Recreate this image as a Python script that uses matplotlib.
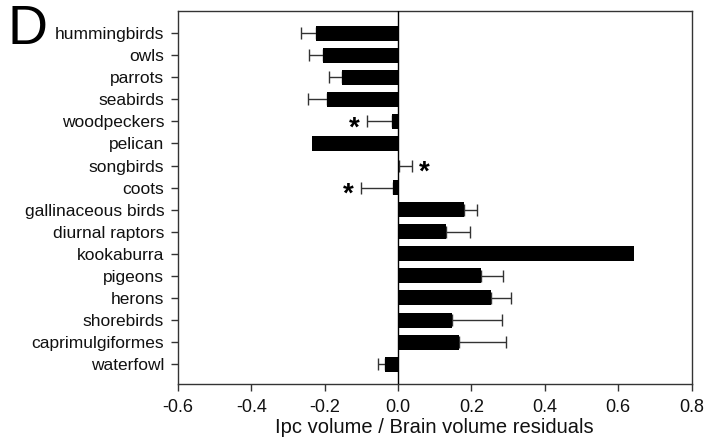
import numpy as np
import matplotlib
matplotlib.use("Agg")
import matplotlib.pyplot as plt
from matplotlib import rcParams

rcParams['font.family'] = ['Liberation Sans', 'DejaVu Sans']

# categories top to bottom
groups = ["hummingbirds", "owls", "parrots", "seabirds", "woodpeckers", "pelican",
          "songbirds", "coots", "gallinaceous birds", "diurnal raptors", "kookaburra",
          "pigeons", "herons", "shorebirds", "caprimulgiformes", "waterfowl"]

# residual means
residuals = [-0.225, -0.206, -0.152, -0.195, -0.017, -0.236,
             0.003, -0.013, 0.181, 0.130, 0.644,
             0.225, 0.253, 0.148, 0.167, -0.036]

# one-sided error (drawn away from zero), 0 = no error bar
errors = [0.039, 0.037, 0.036, 0.052, 0.069, 0.0,
          0.036, 0.089, 0.035, 0.067, 0.0,
          0.062, 0.055, 0.134, 0.127, 0.019]

# groups marked with an asterisk
starred = ["woodpeckers", "songbirds", "coots"]

xticks = [-0.6, -0.4, -0.2, 0.0, 0.2, 0.4, 0.6, 0.8]

fig = plt.figure(figsize=(7.13, 4.44), dpi=100)
ax = fig.add_axes([0.2497, 0.1351, 0.7202, 0.840])

ypos = np.arange(len(groups))
vals = np.array(residuals)
errs = np.array(errors)

# error only on the outer side of each bar
lower = np.where(vals < 0, errs, 0)
upper = np.where(vals >= 0, errs, 0)

ax.barh(ypos, vals, height=0.68, color="black", zorder=2)
has_err = errs > 0
ax.errorbar(vals[has_err], ypos[has_err],
            xerr=[lower[has_err], upper[has_err]],
            fmt="none", ecolor="#333333", elinewidth=1.0, capsize=4, capthick=1.0, zorder=1)

ax.axvline(0, color="black", lw=1.0, zorder=3)

# asterisks just beyond the error bars
for name in starred:
    i = groups.index(name)
    v, e = residuals[i], errors[i]
    sx = v - e - 0.033 if v < 0 else v + e + 0.033
    ax.text(sx, i + 0.32, "*", fontsize=20, fontweight="bold",
            ha="center", va="center", color="black")

ax.set_xlim(-0.6, 0.8)
ax.set_ylim(15.9, -1.0)
ax.set_xticks(xticks)
ax.set_xticklabels([f"{t:.1f}" for t in xticks])
ax.set_yticks(ypos)
ax.set_yticklabels(groups)

ax.tick_params(axis="both", direction="out", length=5, width=1.0, colors="#333333",
               labelcolor="#111111")
ax.tick_params(axis="y", labelsize=12.5, pad=5)
ax.tick_params(axis="x", labelsize=13, pad=6)
ax.set_xlabel("Ipc volume / Brain volume residuals", fontsize=14.5, labelpad=1, color="#111111")

for sp in ax.spines.values():
    sp.set_linewidth(1.0)
    sp.set_color("#333333")

fig.text(0.01, 0.99, "D", fontsize=40, ha="left", va="top", color="black")

fig.savefig("out.png", dpi=100)
